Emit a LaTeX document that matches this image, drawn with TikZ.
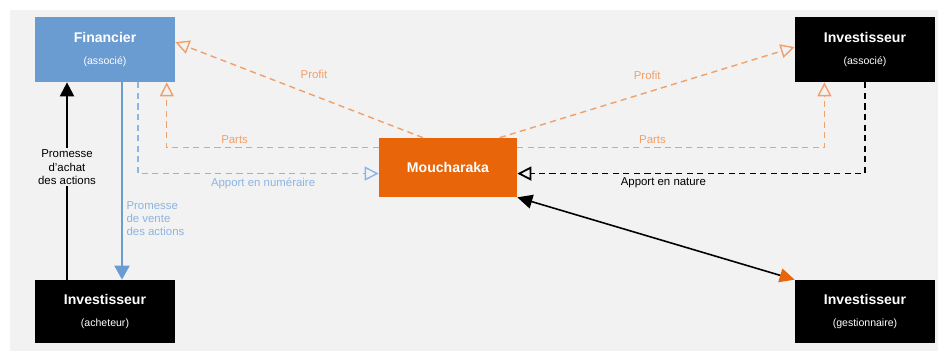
\documentclass[tikz,border=0pt]{standalone}
\usepackage{fontspec}
\setmainfont{Liberation Sans}
\usetikzlibrary{arrows.meta}

\definecolor{fond}{HTML}{F2F2F2}
\definecolor{bleu}{HTML}{6A9BD1}
\definecolor{bleuclair}{HTML}{8DB4E2}
\definecolor{orange}{HTML}{E8650A}
\definecolor{orangeclair}{HTML}{F0A06A}
\newcommand{\sousTitre}[1]{{\fontsize{6}{7}\selectfont\mdseries #1}}

\begin{document}
\begin{tikzpicture}[x=0.02cm,y=-0.02cm]
        \tikzstyle{box}=[rectangle, minimum width=2.8cm, minimum height=1.3cm, text=white, align=center, inner sep=0pt, font=\fontsize{8}{11}\selectfont\bfseries]
        \tikzstyle{lbl}=[font=\fontsize{6.5}{7.5}\selectfont, inner sep=2pt]
        \tikzstyle{profit}=[draw=orangeclair, line width=0.8pt, dash pattern=on 3.5pt off 2.5pt, -{Triangle[open, length=2.8mm, width=2.8mm]}]
        \tikzstyle{numeraire}=[draw=bleuclair, line width=0.8pt, dash pattern=on 3.5pt off 2.5pt, -{Triangle[open, length=2.8mm, width=2.8mm]}]
        \tikzstyle{nature}=[draw=black, line width=1pt, dash pattern=on 3.5pt off 2.5pt, -{Triangle[open, length=2.8mm, width=2.8mm]}]
        \useasboundingbox (0,0) rectangle (944,361);
        \fill[fond] (10,10) rectangle (938,351);
        % les parties
        \node[box, fill=bleu] (fin) at (105,49.5) {Financier\\[1pt]\sousTitre{(associé)}};
        \node[box, fill=black] (inva) at (865,49.5) {Investisseur\\[1pt]\sousTitre{(associé)}};
        \node[box, fill=orange, minimum width=2.76cm, minimum height=1.18cm] (mou) at (448,167.5) {Moucharaka};
        \node[box, fill=black, minimum height=1.26cm] (invb) at (105,311.5) {Investisseur\\[1pt]\sousTitre{(acheteur)}};
        \node[box, fill=black, minimum height=1.26cm] (invg) at (865,311.5) {Investisseur\\[1pt]\sousTitre{(gestionnaire)}};
        % profit et parts
        \draw[profit] (mou.130) -- node[lbl, text=orangeclair, pos=0.44, above=7pt] {Profit} (fin.6);
        \draw[profit] (mou.30) -- node[lbl, text=orangeclair, pos=0.5, above=5pt] {Profit} (inva.178);
        \draw[profit] (mou.164) -| node[lbl, text=orangeclair, pos=0.34, above] {Parts} (fin.-28);
        \draw[profit] (mou.16) -| node[lbl, text=orangeclair, pos=0.22, above] {Parts} (inva.219);
        % apports
        \draw[numeraire] (fin.-45) |- node[lbl, text=bleuclair, pos=0.76, below] {Apport en numéraire} (mou.185);
        \draw[nature] (inva.south) |- node[lbl, pos=0.79, below] {Apport en nature} (mou.-5);
        % promesses
        \draw[line width=1.2pt, -{Triangle[length=2.8mm, width=2.8mm]}] ([xshift=-0.76cm]invb.north) -- node[lbl, pos=0.57, fill=fond, align=center, inner sep=1pt] {Promesse\\d'achat\\des actions} ([xshift=-0.76cm]fin.south);
        \draw[bleu, line width=1.2pt, -{Triangle[length=2.8mm, width=3mm]}] ([xshift=0.34cm]fin.south) -- node[lbl, text=bleuclair, pos=0.69, right, align=left] {Promesse\\de vente\\des actions} ([xshift=0.34cm]invb.north);
        % gestion
        \draw[line width=0.9pt, {Triangle[length=3mm, width=2.8mm]}-{Triangle[length=3mm, width=2.8mm, color=orange]}] (mou.south east) -- (invg.north west);
      \end{tikzpicture}
\end{document}
